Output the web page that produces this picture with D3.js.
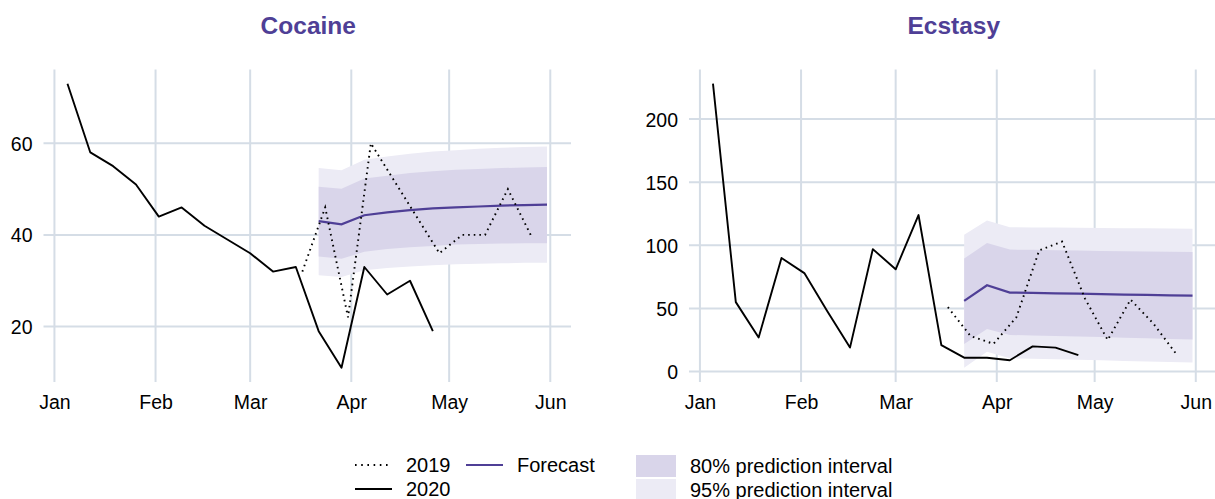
<!DOCTYPE html>
<html>
<head>
<meta charset="utf-8">
<script src="https://cdn.jsdelivr.net/npm/d3@7"></script>
<style>
  html, body { margin: 0; padding: 0; background: #ffffff; }
  svg { display: block; font-family: "Liberation Sans", Arial, Helvetica, sans-serif; }
</style>
</head>
<body>
<svg id="chart" width="1215" height="499"></svg>
<script>
// ---------------- DATA ----------------
const weeks2020 = ["2020-01-05","2020-01-12","2020-01-19","2020-01-26","2020-02-02","2020-02-09","2020-02-16","2020-02-23",
  "2020-03-01","2020-03-08","2020-03-15","2020-03-22","2020-03-29","2020-04-05","2020-04-12","2020-04-19","2020-04-26"];
// 2019 weeks, drawn on the 2020 calendar (same month/day)
const weeks2019 = ["2019-03-17","2019-03-24","2019-03-31","2019-04-07","2019-04-14","2019-04-21","2019-04-28",
  "2019-05-05","2019-05-12","2019-05-19","2019-05-26"];
const forecastWeeks = ["2020-03-22","2020-03-29","2020-04-05","2020-04-12","2020-04-19","2020-04-26",
  "2020-05-03","2020-05-10","2020-05-17","2020-05-24","2020-05-31"];

const cocaine2020 = [73, 58, 55, 51, 44, 46, 42, 39, 36, 32, 33, 19, 11, 33, 27, 30, 19];
const cocaine2019 = [32, 46, 22, 60, 52, 44, 36, 40, 40, 50, 40];
const cocaineForecast = [43.0, 42.3, 44.3, 44.9, 45.4, 45.8, 46.0, 46.2, 46.4, 46.5, 46.6];
const cocaineLo80 = [35.3, 34.8, 36.3, 36.9, 37.3, 37.6, 37.9, 38.0, 38.1, 38.2, 38.2];
const cocaineHi80 = [50.5, 50.1, 52.3, 52.9, 53.5, 53.9, 54.2, 54.4, 54.6, 54.7, 54.8];
const cocaineLo95 = [31.2, 30.8, 32.3, 32.8, 33.1, 33.4, 33.6, 33.7, 33.8, 33.9, 33.9];
const cocaineHi95 = [54.6, 54.1, 56.4, 57.1, 57.7, 58.2, 58.5, 58.8, 59.0, 59.2, 59.3];

const ecstasy2020 = [228, 55, 27, 90, 78, 48, 19, 97, 81, 124, 21, 11, 11, 9, 20, 19, 13];
const ecstasy2019 = [51, 28, 22, 43, 96, 103, 58, 25, 57, 38, 14];
const ecstasyForecast = [56.0, 68.4, 62.6, 62.3, 62.0, 61.7, 61.4, 61.0, 60.7, 60.4, 60.1];
const ecstasyLo80 = [21.9, 33.7, 29.0, 28.6, 28.1, 27.7, 27.3, 26.8, 26.4, 25.9, 25.5];
const ecstasyHi80 = [89.5, 101.8, 96.6, 96.4, 96.1, 95.9, 95.6, 95.4, 95.2, 94.9, 94.7];
const ecstasyLo95 = [3.0, 15.8, 10.5, 10.1, 9.7, 9.3, 8.9, 8.4, 8.0, 7.5, 7.1];
const ecstasyHi95 = [108.4, 119.7, 114.4, 114.2, 114.1, 113.9, 113.8, 113.6, 113.5, 113.3, 113.2];

const panelTitles = ["Cocaine", "Ecstasy"];
const cocaineYTicks = [20, 40, 60];
const ecstasyYTicks = [0, 50, 100, 150, 200];
const monthTicks = ["2020-01-01","2020-02-01","2020-03-01","2020-04-01","2020-05-01","2020-06-01"];
const monthLabels = ["Jan","Feb","Mar","Apr","May","Jun"];
const legendLines = ["2019", "2020", "Forecast"];
const legendFills = ["80% prediction interval", "95% prediction interval"];

// ---------------- STYLE ----------------
const C = {
  grid: "#d5dde6",
  title: "#4f3f96",
  forecast: "#4f3f96",
  fill80: "#d9d5ea",
  fill95: "#ecebf5",
  ink: "#000000"
};
const W = 1215, H = 499;
const panelTop = 69.5, panelBottom = 382, panelW = 527.5;
const panelLefts = [43.5, 689];

const parse = d3.utcParse("%Y-%m-%d");
const dates2020 = weeks2020.map(parse);
const dates2019 = weeks2019.map(s => d3.utcYear.offset(parse(s), 1));
const datesFc = forecastWeeks.map(parse);
const tickDates = monthTicks.map(parse);

const svg = d3.select("#chart");
svg.append("rect").attr("width", W).attr("height", H).attr("fill", "#fff");

const panels = [
  { title: panelTitles[0], y2020: cocaine2020, y2019: cocaine2019, fc: cocaineForecast,
    lo80: cocaineLo80, hi80: cocaineHi80, lo95: cocaineLo95, hi95: cocaineHi95, yTicks: cocaineYTicks },
  { title: panelTitles[1], y2020: ecstasy2020, y2019: ecstasy2019, fc: ecstasyForecast,
    lo80: ecstasyLo80, hi80: ecstasyHi80, lo95: ecstasyLo95, hi95: ecstasyHi95, yTicks: ecstasyYTicks }
];

function expand(ext) {
  const pad = (ext[1] - ext[0]) * 0.05;
  return [ext[0] - pad, ext[1] + pad];
}

panels.forEach((p, i) => {
  const left = panelLefts[i];
  const g = svg.append("g");

  const allDates = dates2020.concat(dates2019, datesFc);
  const xExt = d3.extent(allDates, d => +d);
  const xDom = expand(xExt).map(v => new Date(v));
  const x = d3.scaleUtc().domain(xDom).range([left, left + panelW]);

  const allY = p.y2020.concat(p.y2019, p.fc, p.lo80, p.hi80, p.lo95, p.hi95);
  const y = d3.scaleLinear().domain(expand(d3.extent(allY))).range([panelBottom, panelTop]);

  // grid
  g.append("g").selectAll("line.h").data(p.yTicks).join("line")
    .attr("x1", left).attr("x2", left + panelW)
    .attr("y1", d => y(d)).attr("y2", d => y(d))
    .attr("stroke", C.grid).attr("stroke-width", 2);
  g.append("g").selectAll("line.v").data(tickDates).join("line")
    .attr("x1", d => x(d)).attr("x2", d => x(d))
    .attr("y1", panelTop).attr("y2", panelBottom)
    .attr("stroke", C.grid).attr("stroke-width", 2);

  // axis labels via d3 axes (no domain/ticks drawn)
  const yAxis = d3.axisLeft(y).tickValues(p.yTicks).tickSize(0).tickPadding(11);
  const ya = g.append("g").attr("transform", `translate(${left},0)`).call(yAxis);
  ya.select(".domain").remove();
  ya.selectAll("text").attr("font-size", 19.5).attr("fill", C.ink)
    .attr("font-family", "Liberation Sans, Arial, sans-serif").attr("dy", "0.36em");

  const xAxis = d3.axisBottom(x).tickValues(tickDates).tickFormat((d, k) => monthLabels[k]).tickSize(0).tickPadding(13.5);
  const xa = g.append("g").attr("transform", `translate(0,${panelBottom})`).call(xAxis);
  xa.select(".domain").remove();
  xa.selectAll("text").attr("font-size", 19.5).attr("fill", C.ink)
    .attr("font-family", "Liberation Sans, Arial, sans-serif");

  // ribbons
  const fcRows = datesFc.map((d, k) => ({ d, fc: p.fc[k], lo80: p.lo80[k], hi80: p.hi80[k], lo95: p.lo95[k], hi95: p.hi95[k] }));
  const area95 = d3.area().x(r => x(r.d)).y0(r => y(r.lo95)).y1(r => y(r.hi95));
  const area80 = d3.area().x(r => x(r.d)).y0(r => y(r.lo80)).y1(r => y(r.hi80));
  g.append("path").datum(fcRows).attr("d", area95).attr("fill", C.fill95);
  g.append("path").datum(fcRows).attr("d", area80).attr("fill", C.fill80);

  const line = d3.line().x(r => x(r.d)).y(r => y(r.v));
  g.append("path").datum(fcRows.map(r => ({ d: r.d, v: r.fc })))
    .attr("d", line).attr("fill", "none").attr("stroke", C.forecast).attr("stroke-width", 2.2);

  g.append("path").datum(dates2019.map((d, k) => ({ d, v: p.y2019[k] })))
    .attr("d", line).attr("fill", "none").attr("stroke", C.ink).attr("stroke-width", 1.9)
    .attr("stroke-dasharray", "1.6,4").attr("stroke-linecap", "butt");

  g.append("path").datum(dates2020.map((d, k) => ({ d, v: p.y2020[k] })))
    .attr("d", line).attr("fill", "none").attr("stroke", C.ink).attr("stroke-width", 1.9)
    .attr("stroke-linejoin", "round");

  // title
  svg.append("text").attr("x", left + panelW / 2 + 1).attr("y", 33.5)
    .attr("text-anchor", "middle").attr("font-size", 24.5).attr("font-weight", "bold")
    .attr("fill", C.title).text(p.title);
});

// ---------------- LEGEND ----------------
const lg = svg.append("g").attr("font-size", 20).attr("fill", C.ink);
const lineKeys = [
  { label: legendLines[0], x: 355, y: 465, stroke: C.ink, dash: "1.6,4.6" },
  { label: legendLines[1], x: 355, y: 489, stroke: C.ink, dash: null },
  { label: legendLines[2], x: 466, y: 465, stroke: C.forecast, dash: null }
];
lineKeys.forEach(k => {
  lg.append("line").attr("x1", k.x).attr("x2", k.x + 37).attr("y1", k.y).attr("y2", k.y)
    .attr("stroke", k.stroke).attr("stroke-width", 2)
    .attr("stroke-dasharray", k.dash);
  lg.append("text").attr("x", k.x + 51).attr("y", k.y).attr("dy", "0.36em").text(k.label);
});
const fillKeys = [
  { label: legendFills[0], y: 455, fill: C.fill80 },
  { label: legendFills[1], y: 479, fill: C.fill95 }
];
fillKeys.forEach(k => {
  lg.append("rect").attr("x", 636).attr("y", k.y).attr("width", 40).attr("height", 22).attr("fill", k.fill);
  lg.append("text").attr("x", 690).attr("y", k.y + 11).attr("dy", "0.36em").text(k.label);
});
</script>
</body>
</html>
